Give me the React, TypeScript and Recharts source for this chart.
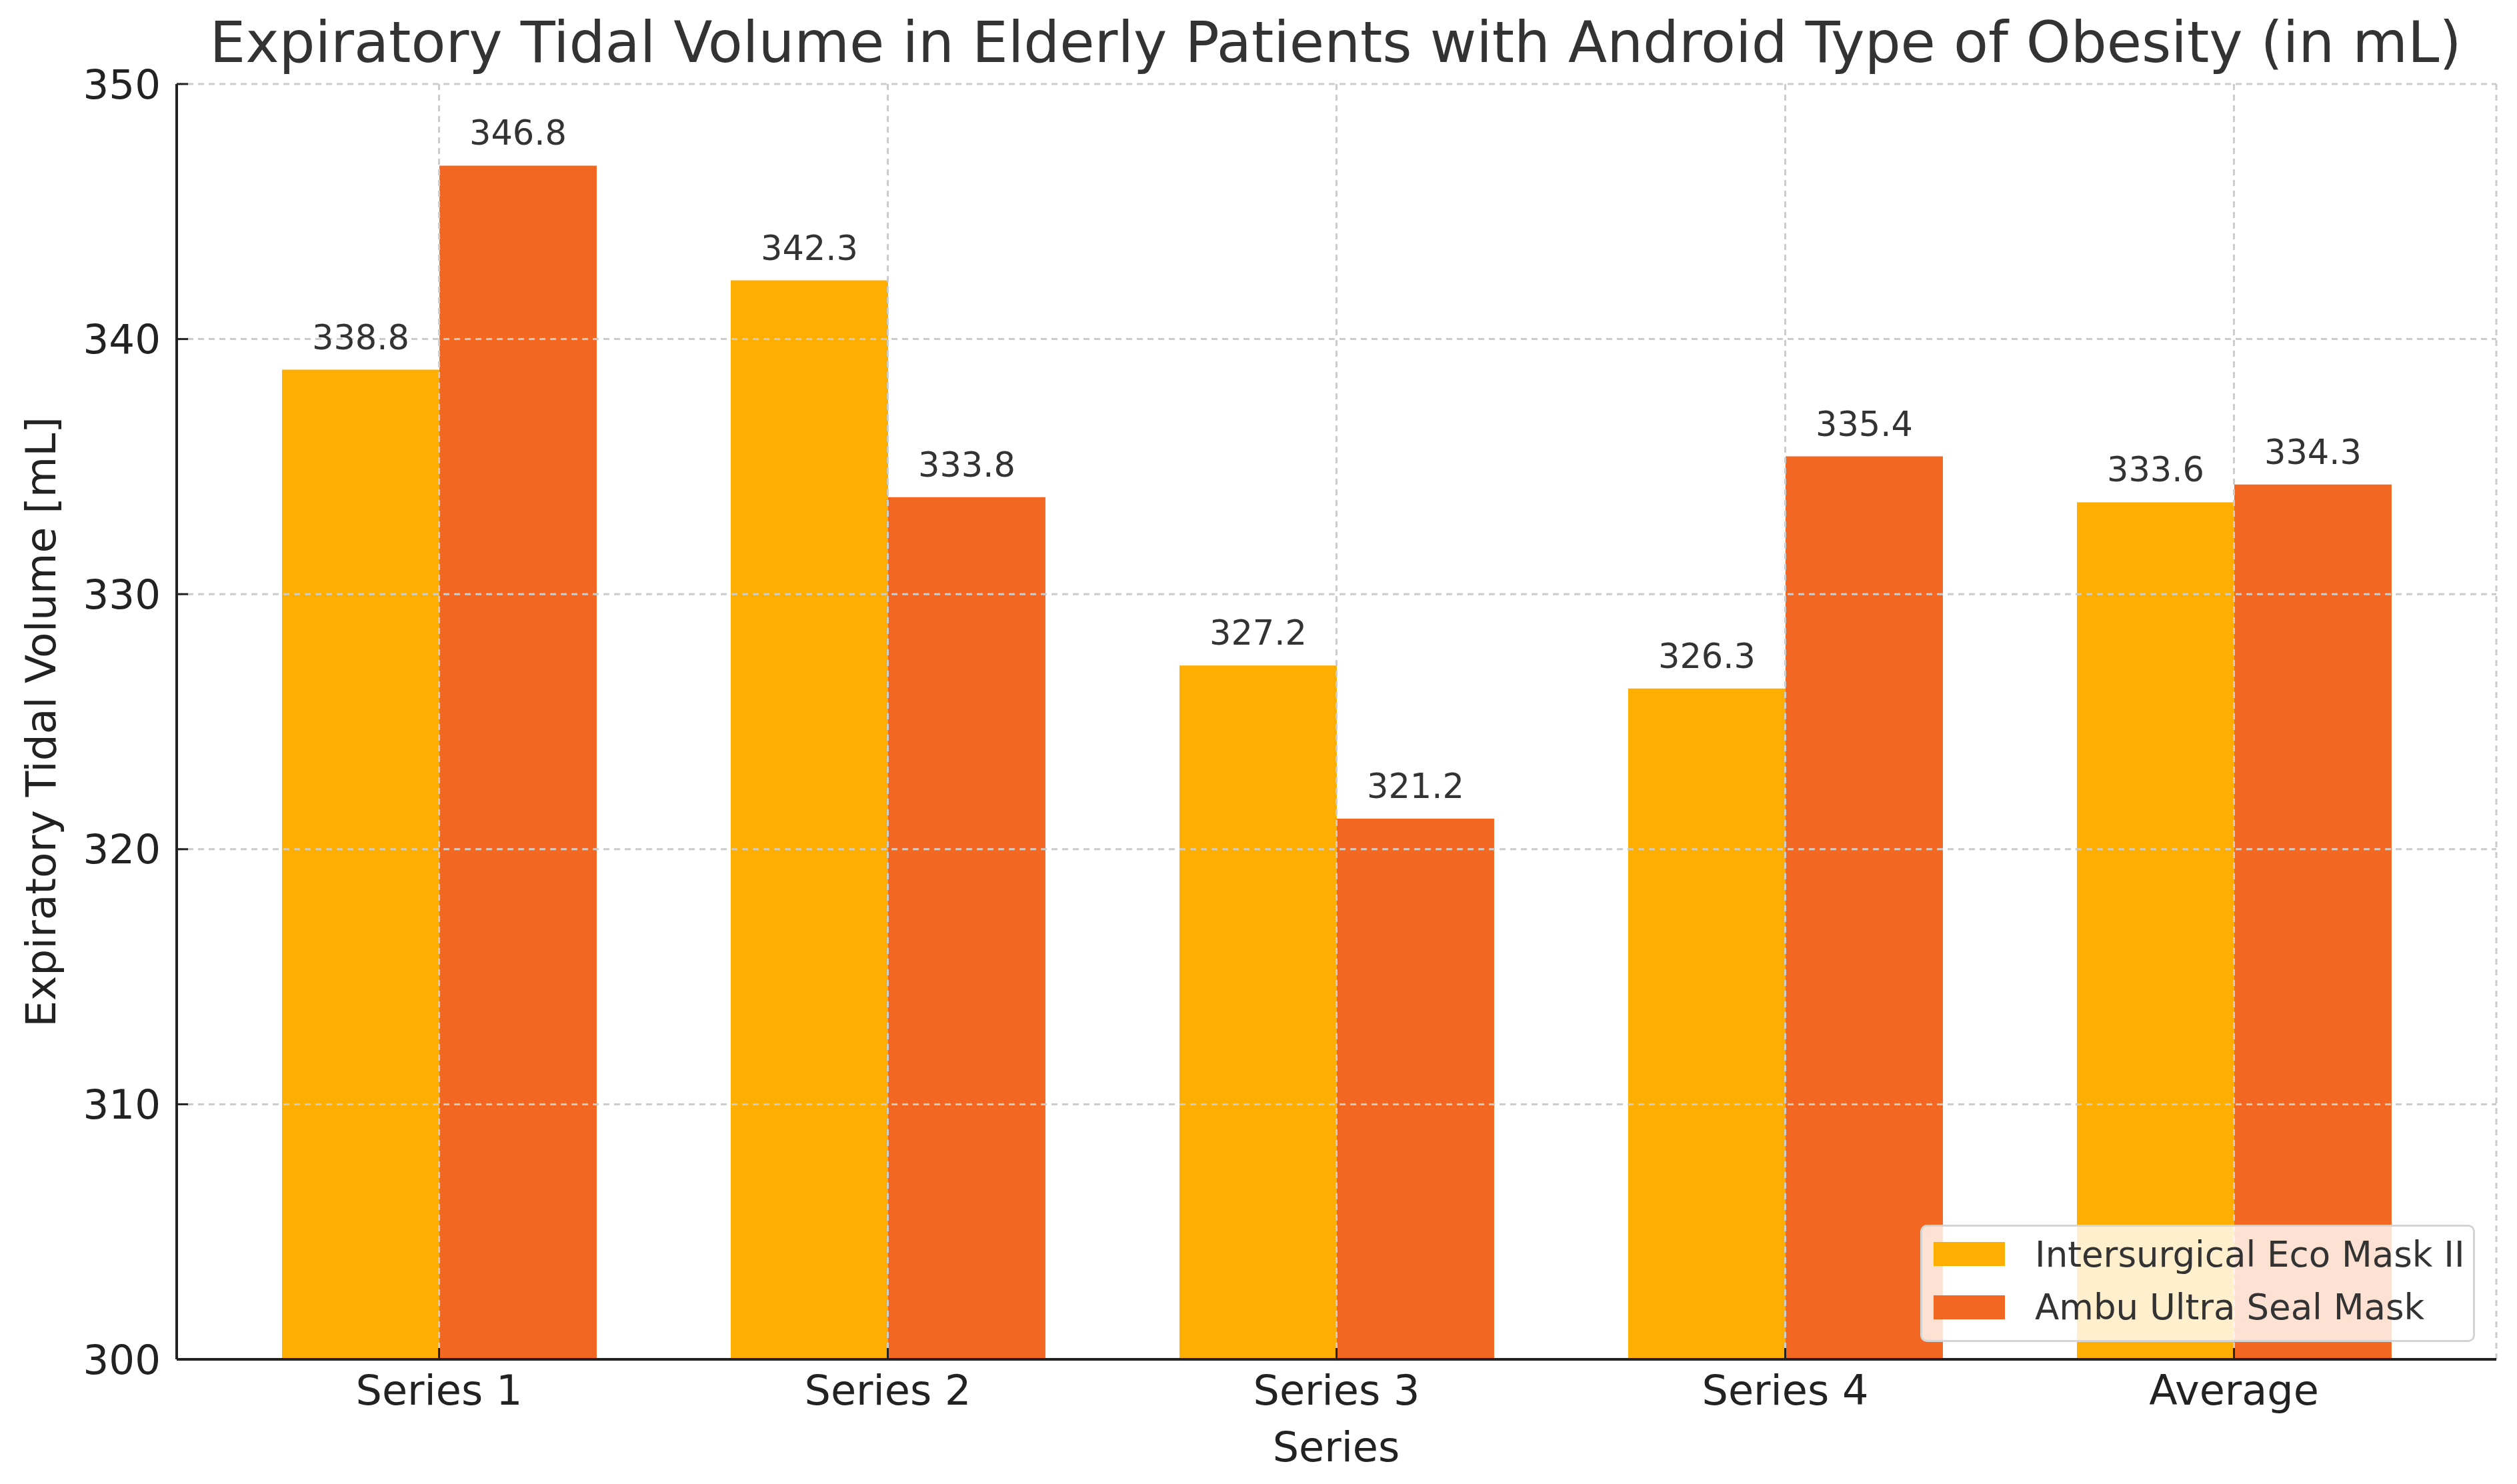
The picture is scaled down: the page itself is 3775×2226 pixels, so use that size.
import { BarChart, Bar, XAxis, YAxis, CartesianGrid, LabelList } from 'recharts'

const categories = ['Series 1', 'Series 2', 'Series 3', 'Series 4', 'Average']
const ecoMask = [338.8, 342.3, 327.2, 326.3, 333.6]
const ambuMask = [346.8, 333.8, 321.2, 335.4, 334.3]
const yTicks = [300, 310, 320, 330, 340, 350]

const seriesNames = ['Intersurgical Eco Mask II', 'Ambu Ultra Seal Mask']
const seriesKeys = ['eco', 'ambu']
const colors = ['#FEAE00', '#F26822']

const data = categories.map((name, i) => ({ name, eco: ecoMask[i], ambu: ambuMask[i] }))

const FONT = '"DejaVu Sans", sans-serif'

// matplotlib-style inward ticks
// eslint-disable-next-line @typescript-eslint/no-explicit-any
function XTick({ x, y, payload }: any) {
  return (
    <g>
      <line x1={x} y1={y} x2={x} y2={y - 17} stroke="#222" strokeWidth={3} />
      <text x={x} y={y + 68} textAnchor="middle" fontSize={62} fill="#222" fontFamily={FONT}>
        {payload.value}
      </text>
    </g>
  )
}

// eslint-disable-next-line @typescript-eslint/no-explicit-any
function YTick({ x, y, payload }: any) {
  return (
    <g>
      <line x1={x} y1={y} x2={x + 17} y2={y} stroke="#222" strokeWidth={3} />
      <text x={x - 24} y={y} textAnchor="end" dominantBaseline="central" fontSize={61} fill="#222" fontFamily={FONT}>
        {payload.value}
      </text>
    </g>
  )
}

function Legend() {
  return (
    <div
      style={{
        position: 'absolute', left: 2880, top: 1837, width: 832, height: 176,
        boxSizing: 'border-box', border: '3px solid #d4d4d4', borderRadius: 10,
        background: 'rgba(255,255,255,0.8)',
      }}
    >
      {seriesNames.map((name, i) => (
        <div
          key={name}
          style={{
            position: 'absolute', left: 17, top: 41 + i * 79.5 - 40, height: 80,
            display: 'flex', alignItems: 'center',
          }}
        >
          <div style={{ width: 107, height: 36, background: colors[i] }} />
          <span style={{ marginLeft: 45, fontSize: 53, color: '#333', fontFamily: FONT, whiteSpace: 'nowrap' }}>
            {name}
          </span>
        </div>
      ))}
    </div>
  )
}

export default function App() {
  return (
    <div style={{ position: 'absolute', left: 0, top: 0, width: 3775, height: 2226, background: '#fff', fontFamily: FONT }}>
      <BarChart
        width={3775}
        height={2226}
        data={data}
        margin={{ top: 126, right: 31, bottom: 87, left: 0 }}
        barCategoryGap="15%"
        barGap={0}
      >
        <CartesianGrid stroke="#cccccc" strokeWidth={3} strokeDasharray="9 7" zIndex={350} />
        <XAxis
          dataKey="name"
          interval={0}
          height={100}
          padding={{ left: 57, right: 57 }}
          tickSize={0}
          tickMargin={0}
          tickLine={false}
          axisLine={{ stroke: '#222', strokeWidth: 4 }}
          tick={XTick}
        />
        <YAxis
          type="number"
          domain={[300, 350]}
          ticks={yTicks}
          allowDataOverflow
          width={265}
          tickSize={0}
          tickMargin={0}
          tickLine={false}
          axisLine={{ stroke: '#222', strokeWidth: 4 }}
          tick={YTick}
        />
        {seriesKeys.map((key, i) => (
          <Bar key={key} dataKey={key} name={seriesNames[i]} fill={colors[i]} isAnimationActive={false}>
            <LabelList
              dataKey={key}
              position="top"
              offset={31}
              fontSize={51}
              fill="#333"
              fontFamily={FONT}
              formatter={(v: number) => v.toFixed(1)}
            />
          </Bar>
        ))}
      </BarChart>
      <svg
        width={3775}
        height={2226}
        style={{ position: 'absolute', left: 0, top: 0, pointerEvents: 'none' }}
        fontFamily={FONT}
      >
        <text x={2003} y={93} textAnchor="middle" fontSize={85} fill="#333">
          Expiratory Tidal Volume in Elderly Patients with Android Type of Obesity (in mL)
        </text>
        <text x={2004} y={2192} textAnchor="middle" fontSize={62} fill="#222">Series</text>
        <text x={83} y={1083} textAnchor="middle" fontSize={63} fill="#222" transform="rotate(-90 83 1083)">
          Expiratory Tidal Volume [mL]
        </text>
      </svg>
      <Legend />
    </div>
  )
}
